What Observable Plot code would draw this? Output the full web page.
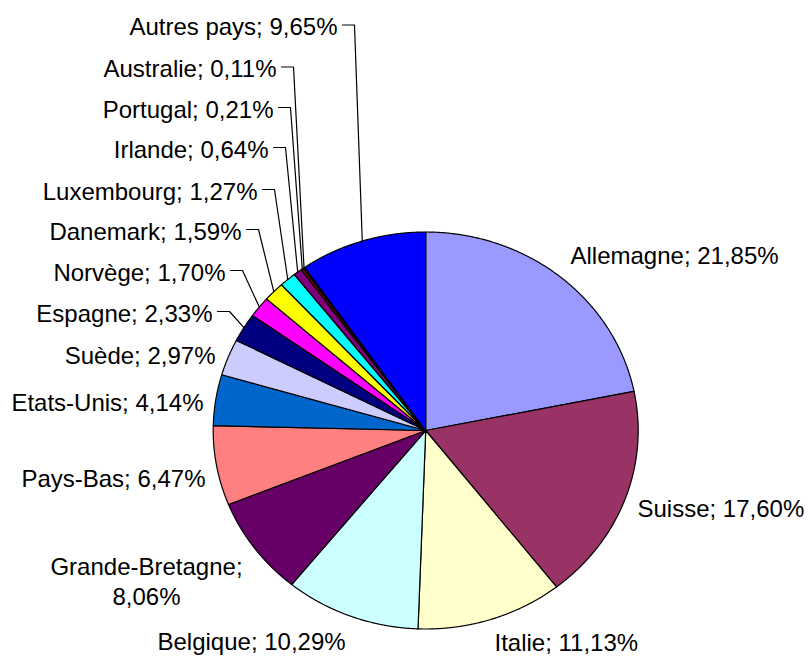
<!DOCTYPE html>
<html>
<head>
<meta charset="utf-8">
<script src="https://cdn.jsdelivr.net/npm/d3@7"></script>
<script src="https://cdn.jsdelivr.net/npm/@observablehq/plot@0.6"></script>
<style>
  html, body { margin: 0; padding: 0; background: #fff; }
  #chart { width: 810px; height: 658px; }
</style>
</head>
<body>
<div id="chart"></div>
<script>
// ---- data ----
const countries = ["Allemagne","Suisse","Italie","Belgique","Grande-Bretagne","Pays-Bas","Etats-Unis","Suède","Espagne","Norvège","Danemark","Luxembourg","Irlande","Portugal","Australie","Autres pays"];
const shares = [21.85,17.60,11.13,10.29,8.06,6.47,4.14,2.97,2.33,1.70,1.59,1.27,0.64,0.21,0.11,9.65];
const labelTexts = ["Allemagne; 21,85%","Suisse; 17,60%","Italie; 11,13%","Belgique; 10,29%","Grande-Bretagne;\n8,06%","Pays-Bas; 6,47%","Etats-Unis; 4,14%","Suède; 2,97%","Espagne; 2,33%","Norvège; 1,70%","Danemark; 1,59%","Luxembourg; 1,27%","Irlande; 0,64%","Portugal; 0,21%","Australie; 0,11%","Autres pays; 9,65%"];

// ---- styles / layout (kept separate from the data) ----
const sliceColors = ["#9999FF","#993366","#FFFFCC","#CCFFFF","#660066","#FF8080","#0066CC","#CCCCFF","#000080","#FF00FF","#FFFF00","#00FFFF","#800080","#800000","#008080","#0000FF"];
// label anchor in pixels: [x, baseline, anchor, leader]
const labelLayout = [
  [570, 262, "start", false],
  [637, 515, "start", false],
  [494, 649, "start", false],
  [157, 648, "start", false],
  [146, 573, "middle", false],
  [205, 484.5, "end", false],
  [203, 408.5, "end", false],
  [215, 361.5, "end", false],
  [212, 319.5, "end", true],
  [225, 278.5, "end", true],
  [241, 237.5, "end", true],
  [257, 197.5, "end", true],
  [268, 155.5, "end", true],
  [273, 115.5, "end", true],
  [276, 75, "end", true],
  [337, 33, "end", true]
];

const CX = 425.2, CY = 430, RX = 212.5, RY = 198.5;
const FS = 24;
const toX = px => (px - CX) / RX;
const toY = py => (CY - py) / RY;

const total = d3.sum(shares);
let cum = 0;
const slices = shares.map((v, i) => {
  const a0 = cum / total * 2 * Math.PI;
  cum += v;
  const a1 = cum / total * 2 * Math.PI;
  const pts = [{x: 0, y: 0}];
  const n = Math.max(2, Math.ceil((a1 - a0) / (Math.PI / 720)));
  for (let k = 0; k <= n; k++) {
    const a = a0 + (a1 - a0) * k / n;
    pts.push({x: Math.sin(a), y: Math.cos(a)});
  }
  return {name: countries[i], color: sliceColors[i], pts, mid: (a0 + a1) / 2};
});

const labels = labelTexts.map((t, i) => {
  const [px, base, anchor, leader] = labelLayout[i];
  const lines = t.split("\n").length;
  const cyPix = base - 0.32 * FS + (lines - 1) * 0.5 * 30;
  return {text: t, x: toX(px), y: toY(cyPix), anchor, leader, px, base, i};
});

const leaders = [];
labels.filter(d => d.leader).forEach(d => {
  const s = slices[d.i];
  const ly = d.base - 8.5;
  leaders.push({name: s.name, x: toX(d.px + 5), y: toY(ly)});
  leaders.push({name: s.name, x: toX(d.px + 17), y: toY(ly)});
  leaders.push({name: s.name, x: Math.sin(s.mid), y: Math.cos(s.mid)});
});

const font = "'Liberation Sans', Arial, Helvetica, sans-serif";
const textMark = anchor => Plot.text(labels.filter(d => d.anchor === anchor), {
  x: "x", y: "y", text: "text", textAnchor: anchor,
  fontSize: FS, fontFamily: font, fill: "black", lineHeight: 30 / FS
});

const chart = Plot.plot({
  width: 810,
  height: 658,
  margin: 0,
  x: {domain: [-1, 1], range: [CX - RX, CX + RX], axis: null},
  y: {domain: [-1, 1], range: [CY + RY, CY - RY], axis: null},
  style: {background: "white", overflow: "visible"},
  marks: [
    ...slices.map(s => Plot.line(s.pts, {x: "x", y: "y", fill: s.color, stroke: "black", strokeWidth: 1.2, curve: "linear-closed", strokeLinejoin: "round"})),
    Plot.line(leaders, {x: "x", y: "y", z: "name", stroke: "black", strokeWidth: 1.2}),
    textMark("start"),
    textMark("end"),
    textMark("middle")
  ]
});
document.getElementById("chart").appendChild(chart);
</script>
</body>
</html>
